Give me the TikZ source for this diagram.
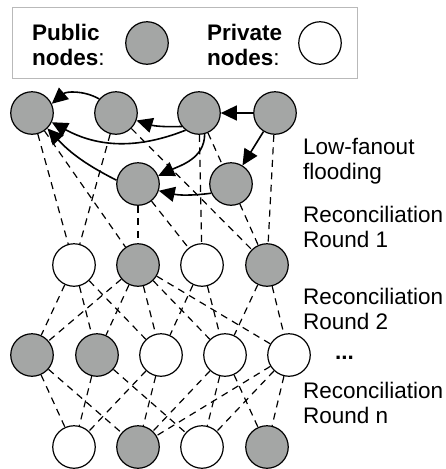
\documentclass[tikz,border=0pt]{standalone}
\usepackage{fontspec}
\setmainfont{Liberation Sans}
\usetikzlibrary{arrows.meta}
\definecolor{pubgray}{RGB}{164,166,165}

\begin{document}
\begin{tikzpicture}[x=1pt, y=-1pt,
    pub/.style={circle, draw, line width=1.2pt, fill=pubgray, minimum size=42.5pt, inner sep=0pt},
    priv/.style={circle, draw, line width=1.2pt, fill=white, minimum size=42.5pt, inner sep=0pt},
    link/.style={line width=1.2pt, dash pattern=on 7pt off 5.5pt},
    flood/.style={line width=1.6pt, -{Triangle[length=16pt, width=15pt]}},
    lbl/.style={anchor=base west, align=left, inner sep=0pt, font=\fontsize{22.5}{24.5}\selectfont}]
      \useasboundingbox (0, 0) rectangle (445, 469);

      \draw [gray!55, line width=1pt] (12, 7) rectangle (357, 78);
      \node [lbl] (pubtext) at (32, 65) {\textbf{Public}\\\textbf{nodes}:};
      \node [pub] (pubkey) at (147, 43) {};
      \node [lbl] (privtext) at (207, 65) {\textbf{Private}\\\textbf{nodes}:};
      \node [priv] (privkey) at (320, 43) {};

      \node [pub] (a1) at (32, 113) {};
      \node [pub] (a2) at (116, 113) {};
      \node [pub] (a3) at (199, 113) {};
      \node [pub] (a4) at (275, 113) {};
      \node [pub] (b1) at (138, 184) {};
      \node [pub] (b2) at (231, 184) {};

      \node [priv] (c1) at (74, 265) {};
      \node [pub] (c2) at (138, 265) {};
      \node [priv] (c3) at (202, 265) {};
      \node [pub] (c4) at (267, 265) {};

      \node [pub] (d1) at (32, 355) {};
      \node [pub] (d2) at (97, 355) {};
      \node [priv] (d3) at (161, 355) {};
      \node [priv] (d4) at (225, 355) {};
      \node [priv] (d5) at (289, 355) {};

      \node [priv] (e1) at (74, 447) {};
      \node [pub] (e2) at (138, 447) {};
      \node [priv] (e3) at (202, 447) {};
      \node [pub] (e4) at (267, 447) {};

      \node [lbl] (flooding) at (303, 179) {Low-fanout\\flooding};
      \node [lbl] (round1) at (303, 247) {Reconciliation\\Round 1};
      \node [lbl] (round2) at (303, 329) {Reconciliation\\Round 2};
      \node [lbl] (dots) at (335, 359) {\textbf{...}};
      \node [lbl] (roundn) at (303, 423) {Reconciliation\\Round n};

      \draw [flood] (a2.140) to[bend right=35] (a1.25);
      \draw [flood] (a3.232) to[bend left=25] (a1.-25);
      \draw [flood] (a3.218) to[bend left=10] (a2.-20);
      \draw [flood] (a4) -- (a3);
      \draw [flood] (a4) -- (b2);
      \draw [flood] (a3.-75) to[out=-90, in=25] (b1.22);
      \draw [flood] (b1.170) to[bend left=10] (a1.-45);
      \draw [flood] (b2.205) to[bend left=10] (b1.-18);

      \draw [link] (a1) -- (c1);
      \draw [link] (a1) -- (c2);
      \draw [link] (a2) -- (c1);
      \draw [link] (a2) -- (c4);
      \draw [link] (a3) -- (c3);
      \draw [link] (a3) -- (b2);
      \draw [link] (b2) -- (c4);
      \draw [link] (a4) -- (c4);
      \draw [link] (b1) -- (c2);
      \draw [link] (b1) -- (c3);

      \draw [link] (c1) -- (d1);
      \draw [link] (c1) -- (d2);
      \draw [link] (c1) -- (d3);
      \draw [link] (c2) -- (d1);
      \draw [link] (c2) -- (d2);
      \draw [link] (c2) -- (d3);
      \draw [link] (c2) -- (d4);
      \draw [link] (c2) -- (d5);
      \draw [link] (c3) -- (d3);
      \draw [link] (c3) -- (d4);
      \draw [link] (c4) -- (d4);
      \draw [link] (c4) -- (d5);

      \draw [link] (d1) -- (e1);
      \draw [link] (d1) -- (e2);
      \draw [link] (d2) -- (e1);
      \draw [link] (d2) -- (e3);
      \draw [link] (d3) -- (e1);
      \draw [link] (d3) -- (e2);
      \draw [link] (d4) -- (e2);
      \draw [link] (d4) -- (e3);
      \draw [link] (d4) -- (e4);
      \draw [link] (d5) -- (e2);
      \draw [link] (d5) -- (e3);
      \draw [link] (d5) -- (e4);
\end{tikzpicture}
\end{document}
